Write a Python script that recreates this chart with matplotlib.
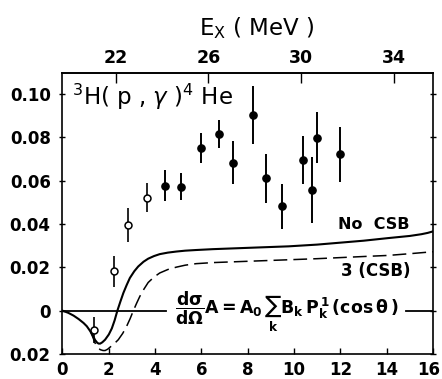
import matplotlib
matplotlib.use("Agg")
import matplotlib.pyplot as plt
import matplotlib.transforms as mtransforms
from matplotlib.ticker import FixedLocator, FixedFormatter

# ---- data ----
ep_open = [1.38, 2.23, 2.82, 3.63]
a_open = [-0.0088, 0.0181, 0.0396, 0.0522]
err_open = [0.0060, 0.0071, 0.0080, 0.0066]

ep_filled = [4.43, 5.13, 6.00, 6.77, 7.36, 8.24, 8.79, 9.50, 10.39, 10.79, 11.00, 11.99]
a_filled = [0.0576, 0.0573, 0.0750, 0.0815, 0.0684, 0.0904, 0.0612, 0.0481, 0.0696, 0.0558, 0.0799, 0.0722]
err_filled = [0.0072, 0.0062, 0.0068, 0.0066, 0.0100, 0.0133, 0.0113, 0.0103, 0.0109, 0.0152, 0.0119, 0.0128]

ep_nocsb = [0.0, 0.25, 0.48, 0.70, 0.91, 1.05, 1.20, 1.30, 1.41, 1.50, 1.56, 1.63, 1.72, 1.84, 2.00, 2.13,
            2.25, 2.37, 2.50, 2.63, 2.77, 2.91, 3.10, 3.27, 3.50, 3.70, 3.95, 4.20, 4.55, 4.92, 5.30,
            5.77, 6.50, 7.50, 8.50, 9.77, 11.0, 12.0, 13.0, 14.06, 15.0, 15.5, 15.77, 16.0]
a_nocsb = [0.0, -0.0010, -0.0023, -0.0039, -0.0057, -0.0072, -0.0095, -0.0113, -0.0136, -0.0148, -0.0152,
           -0.0152, -0.0146, -0.0134, -0.0110, -0.0082, -0.0045, 0.0, 0.0042, 0.0082, 0.0118, 0.0151,
           0.0182, 0.0204, 0.0226, 0.0240, 0.0252, 0.0261, 0.0268, 0.0273, 0.0277, 0.0280, 0.0284,
           0.0288, 0.0292, 0.0297, 0.0305, 0.0314, 0.0323, 0.0335, 0.0345, 0.0353, 0.0359, 0.0366]

ep_csb = [1.20, 1.30, 1.41, 1.52, 1.63, 1.75, 1.84, 1.95, 2.06, 2.23, 2.41, 2.60, 2.77, 2.92, 3.06, 3.20,
          3.34, 3.52, 3.70, 3.95, 4.20, 4.55, 4.92, 5.30, 5.77, 6.50, 7.50, 8.50, 9.77, 11.0, 12.0,
          13.0, 14.06, 15.0, 15.77, 16.0]
a_csb = [-0.0095, -0.0120, -0.0150, -0.0170, -0.0180, -0.0184, -0.0184, -0.0178, -0.0168, -0.0153, -0.0134,
         -0.0105, -0.0072, -0.0037, 0.0, 0.0034, 0.0066, 0.0100, 0.0130, 0.0155, 0.0174, 0.0190, 0.0201,
         0.0210, 0.0217, 0.0222, 0.0226, 0.0230, 0.0235, 0.0240, 0.0245, 0.0250, 0.0255, 0.0263, 0.0270, 0.0272]

x_ticks = [0, 2, 4, 6, 8, 10, 12, 14, 16]
y_ticks = [-0.02, 0.0, 0.02, 0.04, 0.06, 0.08, 0.10]
y_ticklabels = ["0.02", "0", "0.02", "0.04", "0.06", "0.08", "0.10"]
ex_ticks = [22, 26, 30, 34]
ex_offset = 19.7

# ---- figure ----
fig = plt.figure(figsize=(4.42, 3.79), dpi=100)
ax = fig.add_axes([0.1414, 0.0660, 0.8382, 0.7401])

ax.set_xlim(0, 16)
ax.set_ylim(-0.02, 0.1095)

# zero line split around the formula
ax.plot([0, 4.49], [0, 0], color="black", lw=1.3)
ax.plot([14.83, 16], [0, 0], color="black", lw=1.3)

ax.plot(ep_nocsb, a_nocsb, color="black", lw=1.5, solid_joinstyle="round")
ax.plot(ep_csb, a_csb, color="black", lw=1.1, dashes=(9, 4))

ax.errorbar(ep_filled, a_filled, yerr=err_filled, fmt="o", color="black",
            ms=5.2, elinewidth=1.4, capsize=0, zorder=5)
ax.errorbar(ep_open, a_open, yerr=err_open, fmt="o", color="black",
            mfc="white", mec="black", mew=1.1, ms=5.0, elinewidth=1.2, capsize=0, zorder=5)

# axes styling
for s in ax.spines.values():
    s.set_linewidth(1.2)
ax.xaxis.set_major_locator(FixedLocator(x_ticks))
ax.xaxis.set_major_formatter(FixedFormatter([str(t) for t in x_ticks]))
ax.yaxis.set_major_locator(FixedLocator(y_ticks))
ax.yaxis.set_major_formatter(FixedFormatter(y_ticklabels))
ax.tick_params(axis="x", direction="in", length=4, width=1.0, top=False,
               labelsize=12, pad=5)
ax.tick_params(axis="y", which="both", direction="inout", length=5, width=1.0,
               right=True, labelsize=12, pad=6)
for lab in ax.get_xticklabels() + ax.get_yticklabels():
    lab.set_fontweight("bold")
# nudge the last bottom label so it stays inside the figure
last = ax.get_xticklabels()[-1]
last.set_transform(last.get_transform() + mtransforms.ScaledTranslation(-4 / 100, 0, fig.dpi_scale_trans))

sec = ax.secondary_xaxis("top", functions=(lambda x: x + ex_offset, lambda e: e - ex_offset))
sec.set_xticks(ex_ticks)
sec.set_xticklabels([str(t) for t in ex_ticks])
sec.tick_params(direction="in", length=7, width=1.0, labelsize=12.5, pad=5)
for lab in sec.get_xticklabels():
    lab.set_fontweight("bold")
sec.spines["top"].set_linewidth(1.2)

fig.text(0.581, 0.926, r"E$_{\mathrm{X}}$ ( MeV )", ha="center", va="center", fontsize=16.5)

ax.text(0.4, 0.0985, r"$^{3}$H( p , $\gamma$ )$^{4}$ He", ha="left", va="center", fontsize=16.5)
ax.text(15.0, 0.040, "No  CSB", ha="right", va="center", fontsize=11.5, fontweight="bold")
ax.text(15.05, 0.0183, "3 (CSB)", ha="right", va="center", fontsize=12, fontweight="bold")
ax.text(4.85, -0.0005,
        r"$\mathbf{\dfrac{d\sigma}{d\Omega}A = A_0\,\sum_{k} B_k\,P^{\,1}_k\,(cos\,\theta\,)}$",
        ha="left", va="center", fontsize=12.5)

fig.savefig("out.png", dpi=100)
